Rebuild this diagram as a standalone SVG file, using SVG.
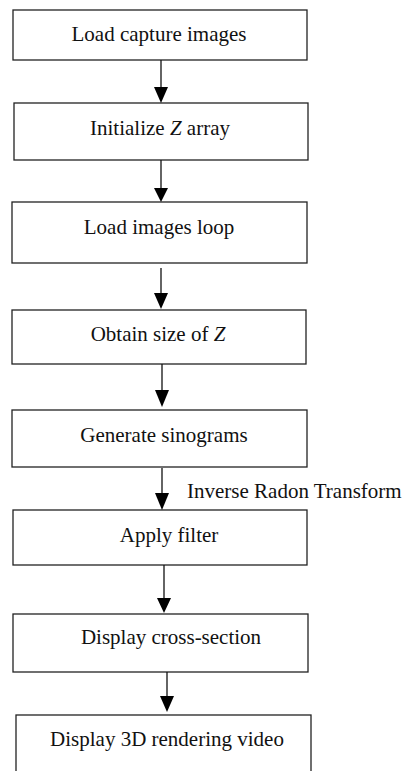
<svg xmlns="http://www.w3.org/2000/svg" width="406" height="771" viewBox="0 0 406 771">
<style>
.box{fill:#fff;stroke:#222;stroke-width:1.3}
.t{font-family:"Liberation Serif","Times New Roman",serif;font-size:21px;fill:#111;text-anchor:middle}
.lbl{font-family:"Liberation Serif","Times New Roman",serif;font-size:21px;fill:#111}
.c{stroke:#111;stroke-width:1.3;fill:none}
.h{fill:#000}
</style>
<rect width="406" height="771" fill="#fff"/>
<g id="n1"><rect class="box" x="13" y="10" width="294" height="50"/><text class="t" x="159" y="41">Load capture images</text></g>
<g id="n2"><rect class="box" x="14" y="103" width="294" height="57"/><text class="t" x="160" y="135">Initialize <tspan font-style="italic">Z</tspan> array</text></g>
<g id="n3"><rect class="box" x="12" y="202" width="295" height="61"/><text class="t" x="159" y="234">Load images loop</text></g>
<g id="n4"><rect class="box" x="12" y="310" width="294" height="54"/><text class="t" x="158" y="341">Obtain size of <tspan font-style="italic">Z</tspan></text></g>
<g id="n5"><rect class="box" x="12" y="410" width="295" height="57"/><text class="t" x="164" y="442">Generate sinograms</text></g>
<g id="n6"><rect class="box" x="13" y="510" width="294" height="55"/><text class="t" x="169" y="542">Apply filter</text></g>
<g id="n7"><rect class="box" x="13" y="614" width="295" height="58"/><text class="t" x="171" y="644">Display cross-section</text></g>
<g id="n8"><rect class="box" x="16" y="715" width="295" height="70"/><text class="t" x="167" y="746">Display 3D rendering video</text></g>
<g id="connectors">
<line class="c" x1="161" y1="60" x2="161" y2="88"/><polygon class="h" points="154,87 168,87 161,103"/>
<line class="c" x1="161" y1="160" x2="161" y2="189"/><polygon class="h" points="154,188 168,188 161,202"/>
<line class="c" x1="161" y1="268" x2="161" y2="294"/><polygon class="h" points="154,293 168,293 161,309"/>
<line class="c" x1="162" y1="364" x2="162" y2="391"/><polygon class="h" points="155,390 169,390 162,407"/>
<line class="c" x1="162" y1="468" x2="162" y2="494"/><polygon class="h" points="155,493 169,493 162,510"/>
<line class="c" x1="164" y1="565" x2="164" y2="599"/><polygon class="h" points="157,598 171,598 164,613"/>
<line class="c" x1="167" y1="672" x2="167" y2="697"/><polygon class="h" points="160,696 174,696 167,712"/>
<text class="lbl" x="187" y="498">Inverse Radon Transform</text>
</g>
</svg>
